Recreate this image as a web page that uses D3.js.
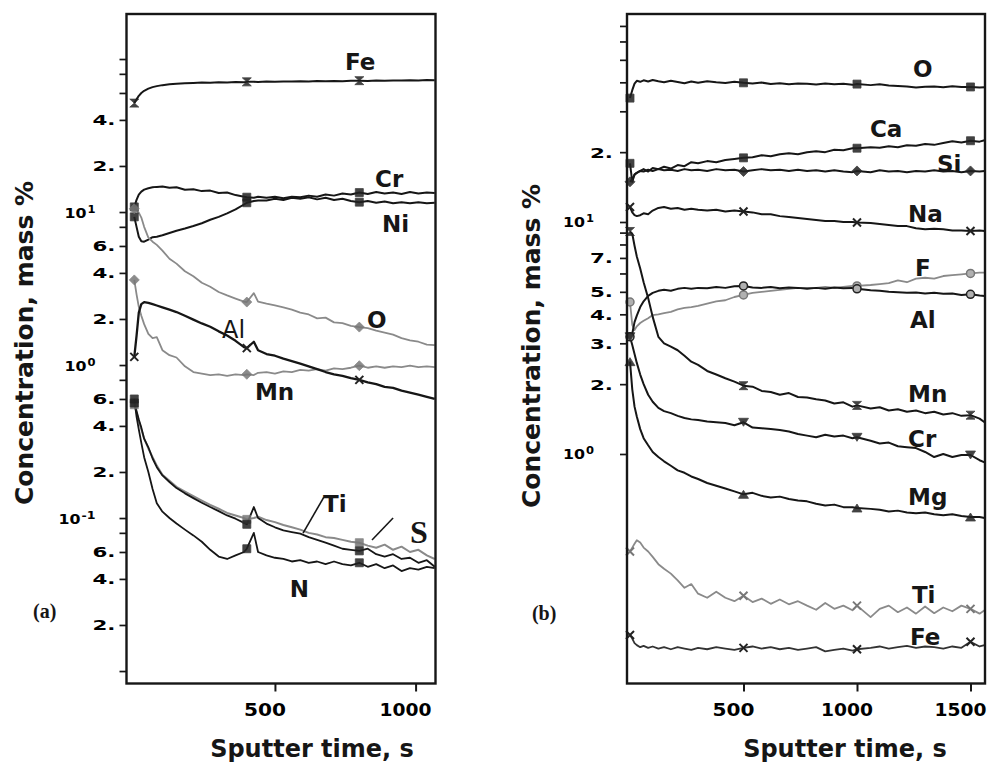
<!DOCTYPE html>
<html><head><meta charset="utf-8">
<script src="https://cdn.jsdelivr.net/npm/d3@7"></script>
<style>body{margin:0;background:#fff}svg{display:block}</style>
</head><body>
<svg id="chart" width="989" height="763"></svg>
<script>
// ---------- Panel (a) data : sputter time (s) and concentration (mass %) ----------
const timeA = [0, 8, 16, 25, 35, 50, 65, 80, 100, 125, 150, 180, 210, 240, 270, 300, 330, 360, 390, 400, 425, 440, 470, 500, 530, 560, 590, 620, 650, 680, 710, 740, 770, 800, 830, 860, 890, 920, 950, 980, 1010, 1040, 1068];
const feA = [51.5, 54.5, 57.5, 60, 62, 64, 65.5, 66.5, 67.5, 68.3, 68.9, 69.5, 69.8, 70.2, 70.0, 70.5, 70.3, 70.8, 70.6, 70.9, 71.0, 70.8, 71.2, 71.0, 71.4, 71.2, 71.6, 71.3, 71.8, 71.6, 71.9, 71.7, 72.0, 72.2, 71.9, 72.3, 72.1, 72.5, 72.3, 72.6, 72.4, 72.8, 72.7];
const crA = [10.8, 12.0, 13.0, 13.6, 14.0, 14.3, 14.5, 14.6, 14.7, 14.4, 14.5, 14.0, 14.1, 13.7, 13.8, 13.3, 13.4, 12.9, 12.6, 12.5, 12.4, 12.6, 12.4, 12.6, 12.3, 12.6, 12.5, 12.8, 12.6, 13.0, 12.8, 13.2, 13.0, 13.4, 13.1, 13.5, 13.2, 13.4, 13.1, 13.5, 13.2, 13.4, 13.3];
const niA = [9.3, 8.0, 6.9, 6.45, 6.4, 6.6, 6.85, 6.9, 7.05, 7.3, 7.55, 7.8, 8.1, 8.45, 8.9, 9.3, 9.8, 10.4, 11.2, 11.5, 11.8, 11.9, 11.9, 12.2, 12.0, 12.4, 12.2, 12.5, 12.1, 12.4, 12.0, 12.2, 11.8, 11.6, 11.8, 11.5, 11.7, 11.4, 11.6, 11.4, 11.6, 11.4, 11.5];
const oA = [10.5, 10.3, 9.9, 9.2, 8.0, 6.8, 6.4, 6.1, 5.6, 4.95, 4.6, 4.1, 3.8, 3.45, 3.25, 3.0, 2.85, 2.72, 2.6, 2.58, 2.95, 2.6, 2.52, 2.45, 2.38, 2.3, 2.2, 2.14, 2.02, 2.04, 1.9, 1.88, 1.8, 1.77, 1.74, 1.68, 1.63, 1.58, 1.5, 1.45, 1.42, 1.36, 1.35];
const alA = [1.13, 1.55, 2.2, 2.5, 2.58, 2.55, 2.5, 2.45, 2.38, 2.3, 2.22, 2.1, 1.98, 1.87, 1.78, 1.66, 1.56, 1.44, 1.31, 1.29, 1.42, 1.25, 1.18, 1.15, 1.1, 1.06, 1.02, 0.98, 0.94, 0.9, 0.87, 0.85, 0.82, 0.8, 0.77, 0.75, 0.72, 0.71, 0.68, 0.66, 0.64, 0.62, 0.6];
const mnA = [3.6, 2.9, 2.4, 2.1, 1.85, 1.6, 1.5, 1.52, 1.25, 1.16, 1.12, 0.98, 0.9, 0.88, 0.86, 0.87, 0.85, 0.87, 0.86, 0.87, 0.86, 0.89, 0.9, 0.88, 0.91, 0.9, 0.93, 0.92, 0.94, 0.92, 0.95, 0.94, 0.96, 0.99, 0.96, 0.98, 0.96, 0.98, 0.97, 0.99, 0.97, 0.98, 0.97];
const tiA = [0.565, 0.5, 0.44, 0.39, 0.33, 0.29, 0.245, 0.215, 0.19, 0.172, 0.157, 0.145, 0.135, 0.126, 0.118, 0.111, 0.104, 0.099, 0.093, 0.091, 0.118, 0.1, 0.092, 0.087, 0.083, 0.081, 0.079, 0.075, 0.072, 0.069, 0.066, 0.063, 0.062, 0.061, 0.063, 0.058, 0.056, 0.058, 0.054, 0.055, 0.051, 0.053, 0.048];
const sA = [0.55, 0.49, 0.43, 0.38, 0.33, 0.285, 0.25, 0.22, 0.192, 0.175, 0.16, 0.149, 0.139, 0.13, 0.122, 0.115, 0.108, 0.104, 0.1, 0.098, 0.1, 0.102, 0.097, 0.094, 0.09, 0.087, 0.084, 0.08, 0.078, 0.075, 0.074, 0.072, 0.07, 0.069, 0.066, 0.064, 0.067, 0.062, 0.065, 0.06, 0.062, 0.057, 0.054];
const nA = [0.6, 0.46, 0.38, 0.31, 0.25, 0.2, 0.155, 0.125, 0.11, 0.1, 0.092, 0.084, 0.077, 0.07, 0.062, 0.056, 0.054, 0.057, 0.06, 0.063, 0.08, 0.06, 0.057, 0.055, 0.054, 0.052, 0.053, 0.051, 0.052, 0.05, 0.052, 0.05, 0.049, 0.051, 0.048, 0.05, 0.047, 0.049, 0.045, 0.047, 0.046, 0.048, 0.047];

// ---------- Panel (b) data ----------
const timeB = [0, 10, 20, 30, 45, 60, 80, 100, 125, 150, 180, 210, 240, 270, 300, 340, 380, 420, 460, 500, 540, 580, 620, 660, 700, 740, 780, 820, 860, 900, 940, 980, 1000, 1060, 1100, 1140, 1180, 1220, 1260, 1300, 1340, 1380, 1420, 1460, 1500, 1540, 1562];
const oB = [34.2, 37, 39.5, 40.6, 40.2, 40.8, 40.3, 40.9, 40.4, 40.0, 40.6, 40.1, 39.6, 40.3, 39.8, 40.4, 40.0, 39.7, 40.2, 39.8, 39.5, 39.9, 39.3, 39.6, 39.2, 39.5, 39.4, 39.1, 39.5, 39.2, 39.4, 39.0, 39.3, 38.9, 39.2, 38.8, 38.6, 38.4, 38.0, 38.3, 38.4, 38.1, 38.5, 38.2, 38.2, 38.0, 38.1];
const caB = [17.9, 14.9, 16.0, 16.3, 16.6, 16.9, 16.5, 17.1, 16.9, 17.3, 17.0, 17.6, 17.4, 18.1, 17.9, 18.3, 18.1, 18.5, 18.7, 18.9, 19.0, 19.4, 19.2, 19.6, 19.8, 19.6, 20.0, 20.2, 20.0, 20.5, 20.4, 20.8, 20.8, 21.0, 20.9, 21.2, 21.0, 21.4, 21.3, 21.7, 21.5, 21.9, 22.3, 22.0, 22.4, 22.2, 22.5];
const siB = [14.9, 15.3, 16.0, 16.3, 16.6, 16.5, 16.8, 16.6, 16.9, 16.7, 16.8, 16.6, 16.9, 16.7, 16.8, 16.6, 16.9, 16.7, 16.8, 16.5, 16.7, 16.9, 16.7, 16.8, 16.6, 16.8, 16.6, 16.7, 16.5, 16.7, 16.5, 16.4, 16.6, 16.4, 16.7, 16.5, 16.6, 16.4, 16.6, 16.5, 16.7, 16.5, 16.6, 16.4, 16.6, 16.5, 16.6];
const naB = [11.6, 11.0, 10.7, 10.6, 10.7, 10.9, 10.8, 11.2, 11.5, 11.6, 11.4, 11.5, 11.3, 11.4, 11.3, 11.2, 11.3, 11.1, 11.2, 11.1, 11.0, 10.8, 10.8, 10.6, 10.5, 10.4, 10.3, 10.2, 10.1, 10.1, 10.0, 10.0, 9.95, 9.9, 9.8, 9.7, 9.6, 9.6, 9.4, 9.3, 9.35, 9.3, 9.2, 9.2, 9.15, 9.2, 9.15];
const fB = [4.52, 3.6, 3.42, 3.55, 3.67, 3.75, 3.85, 3.97, 4.0, 4.05, 4.1, 4.2, 4.26, 4.3, 4.35, 4.45, 4.55, 4.6, 4.75, 4.85, 4.95, 5.0, 5.05, 5.1, 5.15, 5.2, 5.2, 5.2, 5.25, 5.2, 5.25, 5.3, 5.3, 5.35, 5.4, 5.45, 5.6, 5.5, 5.7, 5.75, 5.7, 5.85, 5.9, 5.95, 6.0, 6.05, 6.05];
const alB = [3.2, 3.3, 3.7, 3.95, 4.3, 4.55, 4.8, 4.95, 5.05, 5.1, 5.05, 5.15, 5.2, 5.15, 5.2, 5.18, 5.25, 5.2, 5.28, 5.3, 5.22, 5.2, 5.25, 5.18, 5.22, 5.2, 5.15, 5.2, 5.15, 5.22, 5.18, 5.2, 5.15, 5.08, 5.05, 5.0, 4.98, 4.95, 4.97, 4.92, 4.95, 4.9, 4.92, 4.85, 4.88, 4.82, 4.8];
const mnB = [9.1, 8.9, 7.9, 7.1, 6.3, 5.5, 4.7, 3.9, 3.2, 3.0, 2.9, 2.8, 2.65, 2.5, 2.42, 2.28, 2.2, 2.12, 2.05, 1.97, 1.95, 1.87, 1.85, 1.8, 1.83, 1.76, 1.75, 1.72, 1.7, 1.65, 1.67, 1.6, 1.62, 1.57, 1.59, 1.54, 1.56, 1.52, 1.54, 1.5, 1.52, 1.48, 1.5, 1.46, 1.47, 1.42, 1.37];
const crB = [3.2, 2.95, 2.7, 2.47, 2.2, 2.0, 1.8, 1.68, 1.58, 1.53, 1.5, 1.46, 1.43, 1.41, 1.4, 1.38, 1.37, 1.36, 1.33, 1.37, 1.3, 1.29, 1.28, 1.27, 1.25, 1.22, 1.2, 1.18, 1.21, 1.19, 1.2, 1.17, 1.18, 1.14, 1.11, 1.12, 1.08, 1.07, 1.06, 1.02, 0.97, 1.0, 0.97, 0.99, 0.99, 0.94, 0.92];
const mgB = [2.5, 1.9, 1.6, 1.45, 1.28, 1.17, 1.09, 1.02, 0.97, 0.93, 0.89, 0.85, 0.83, 0.8, 0.78, 0.75, 0.73, 0.71, 0.69, 0.67, 0.68, 0.66, 0.65, 0.655, 0.64, 0.63, 0.625, 0.61, 0.6, 0.605, 0.59, 0.59, 0.585, 0.58, 0.575, 0.565, 0.57, 0.56, 0.555, 0.56, 0.55, 0.545, 0.55, 0.54, 0.535, 0.535, 0.53];
const tiB = [0.38, 0.395, 0.41, 0.425, 0.415, 0.395, 0.38, 0.36, 0.335, 0.32, 0.305, 0.285, 0.265, 0.275, 0.25, 0.24, 0.255, 0.24, 0.232, 0.245, 0.23, 0.238, 0.226, 0.236, 0.225, 0.232, 0.222, 0.213, 0.228, 0.215, 0.222, 0.212, 0.222, 0.198, 0.215, 0.222, 0.208, 0.218, 0.205, 0.22, 0.206, 0.218, 0.21, 0.222, 0.215, 0.205, 0.212];
const feB = [0.166, 0.16, 0.153, 0.15, 0.147, 0.149, 0.146, 0.148, 0.145, 0.147, 0.144, 0.147, 0.145, 0.143, 0.146, 0.144, 0.147, 0.145, 0.143, 0.146, 0.148, 0.145, 0.147, 0.144, 0.146, 0.143, 0.145, 0.147, 0.141, 0.143, 0.145, 0.142, 0.144, 0.146, 0.148, 0.145, 0.147, 0.149, 0.146, 0.148, 0.147, 0.145, 0.148, 0.146, 0.155, 0.148, 0.15];

// ---------- ticks ----------
const yTicksA = [100, 80, 60, 40, 20, 10, 8, 6, 4, 2, 1, 0.8, 0.6, 0.4, 0.2, 0.1, 0.08, 0.06, 0.04, 0.02, 0.01];
const yTickLabelsA = ["", "", "", "4.", "2.", "10^1", "", "6.", "4.", "2.", "10^0", "", "6.", "4.", "2.", "10^-1", "", "6.", "4.", "2.", ""];
const xTicksA = [500, 1000];
const yTicksB = [70, 60, 50, 40, 30, 20, 10, 9, 8, 7, 6, 5, 4, 3, 2, 1];
const yTickLabelsB = ["", "", "", "", "", "2.", "10^1", "", "", "7.", "", "5.", "4.", "3.", "2.", "10^0"];
const xTicksB = [500, 1000, 1500];
const markTimesA = [0, 400, 800];
const markTimesB = [0, 500, 1000, 1500];

const BLACK = "#161616", GRAY = "#8a8a8a";
const FONT = "'DejaVu Sans', Verdana, sans-serif";
const svg = d3.select("#chart");

function marker(g, cx, cy, type, color) {
  const paths = {
    x: "M-4,-4L4,4M-4,4L4,-4",
    hour: "M-4.5,-4L4.5,-4L-4.5,4L4.5,4Z",
    sq: "M-4,-4H4V4H-4Z",
    dia: "M0,-5L5,0L0,5L-5,0Z",
    tri: "M-5,-4L5,-4L0,4Z",
    triu: "M-5,4L5,4L0,-4Z",
    circ: "M-4,0A4,4 0 1,0 4,0A4,4 0 1,0 -4,0Z"
  };
  const p = g.append("path").attr("d", paths[type]).attr("transform", `translate(${cx},${cy})`);
  if (type === "x") p.attr("fill", "none").attr("stroke", color).attr("stroke-width", 2);
  else if (type === "circ") p.attr("fill", "#b0b0b0").attr("stroke", color).attr("stroke-width", 1.5);
  else p.attr("fill", color).attr("stroke", color).attr("stroke-width", 0.8).attr("opacity", 0.85);
}

function drawPanel(p) {
  const x = d3.scaleLinear().domain(p.xDomain).range([p.left, p.right]);
  const y = d3.scaleLog().domain(p.yDomain).range([p.bottom, p.top]);
  const g = svg.append("g");

  // series lines
  p.series.forEach(s => {
    const pts = d3.zip(p.times, s.values);
    g.append("path").datum(pts)
      .attr("fill", "none").attr("stroke", s.color).attr("stroke-width", s.width)
      .attr("stroke-linejoin", "round")
      .attr("d", d3.line().x(d => x(d[0])).y(d => y(d[1])));
  });
  p.series.forEach(s => {
    p.marks.forEach(mt => {
      const i = p.times.indexOf(mt);
      if (i >= 0) marker(g, x(p.times[i]), y(s.values[i]), s.marker, s.color === GRAY ? "#777" : "#222");
    });
  });

  // y axis ticks
  const ay = g.append("g").attr("transform", `translate(${p.left},0)`)
    .call(d3.axisLeft(y).tickValues(p.yTicks).tickSize(7).tickFormat(""));
  ay.select(".domain").remove();
  ay.selectAll(".tick line").attr("stroke", BLACK).attr("stroke-width", 1.7);
  p.yTicks.forEach((v, i) => {
    const lab = p.yLabels[i];
    if (!lab) return;
    const yy = y(v);
    if (lab.startsWith("10^")) {
      const exp = lab.slice(3);
      const expW = exp.length > 1 ? 15 : 9;
      const endX = p.left - p.decOff - expW;
      g.append("text").attr("x", endX).attr("y", yy + 5.5)
        .attr("text-anchor", "end").attr("font-family", FONT).attr("font-weight", "bold")
        .attr("font-size", 14.5).attr("textLength", 22).attr("lengthAdjust", "spacingAndGlyphs").text("10");
      g.append("text").attr("x", endX + 1).attr("y", yy + 0.5)
        .attr("font-family", FONT).attr("font-weight", "bold").attr("font-size", 10.5)
        .attr("textLength", expW - 1).attr("lengthAdjust", "spacingAndGlyphs").text(exp);
    } else {
      g.append("text").attr("x", p.left - p.labOff).attr("y", yy + 5.5)
        .attr("text-anchor", "end").attr("font-family", FONT).attr("font-weight", "bold")
        .attr("font-size", 14.5).attr("textLength", 23).attr("lengthAdjust", "spacingAndGlyphs").text(lab);
    }
  });

  // x axis ticks (labels sit slightly left of their ticks, as in the original)
  const ax = g.append("g").attr("transform", `translate(0,${p.bottom})`)
    .call(d3.axisBottom(x).tickValues(p.xTicks).tickSize(8).tickFormat(""));
  ax.select(".domain").remove();
  ax.selectAll(".tick line").attr("stroke", BLACK).attr("stroke-width", 2);
  p.xTicks.forEach(v => {
    const s = String(v);
    g.append("text").attr("x", x(v) - 10).attr("y", p.bottom + 32)
      .attr("text-anchor", "middle").attr("font-family", FONT).attr("font-weight", "bold")
      .attr("font-size", 18).attr("textLength", s.length === 3 ? 42 : 52).attr("lengthAdjust", "spacingAndGlyphs").text(s);
  });

  // frame
  g.append("rect").attr("x", p.left).attr("y", p.top)
    .attr("width", p.right - p.left).attr("height", p.bottom - p.top)
    .attr("fill", "none").attr("stroke", BLACK).attr("stroke-width", 2.4);

  // axis titles
  g.append("text").attr("x", p.xTitleX).attr("y", 757).attr("text-anchor", "middle")
    .attr("font-family", FONT).attr("font-weight", "bold").attr("font-size", 24).attr("fill", BLACK)
    .text("Sputter time, s");
  g.append("text").attr("transform", `translate(${p.yTitleX},${p.yTitleY}) rotate(-90)`)
    .attr("text-anchor", "middle").attr("font-family", FONT).attr("font-weight", "bold")
    .attr("font-size", 25).attr("fill", BLACK).text("Concentration, mass %");

  // series labels (positioned in data coordinates)
  p.labels.forEach(l => {
    g.append("text").attr("x", x(l.t)).attr("y", y(l.v))
      .attr("font-family", l.serif ? "'Liberation Serif', 'Times New Roman', serif" : FONT)
      .attr("font-weight", l.normal ? "normal" : "bold")
      .attr("font-size", l.size || 23).attr("fill", BLACK).text(l.text);
  });
  (p.leaders || []).forEach(d => {
    g.append("line").attr("x1", x(d[0])).attr("y1", y(d[1])).attr("x2", x(d[2])).attr("y2", y(d[3]))
      .attr("stroke", BLACK).attr("stroke-width", 1.6);
  });
}

drawPanel({
  left: 126.5, right: 435.5, top: 14, bottom: 683.5,
  xDomain: [-27.7, 1070.8], yDomain: [0.00829, 196.9],
  times: timeA, marks: markTimesA,
  yTicks: yTicksA, yLabels: yTickLabelsA, xTicks: xTicksA,
  labOff: 11, decOff: 31,
  xTitleX: 312, yTitleX: 33, yTitleY: 343,
  series: [
    { values: feA, color: BLACK, width: 2, marker: "hour" },
    { values: crA, color: BLACK, width: 2, marker: "sq" },
    { values: niA, color: BLACK, width: 2, marker: "sq" },
    { values: oA, color: GRAY, width: 1.8, marker: "dia" },
    { values: mnA, color: GRAY, width: 1.8, marker: "dia" },
    { values: alA, color: BLACK, width: 2.3, marker: "x" },
    { values: sA, color: GRAY, width: 2, marker: "sq" },
    { values: tiA, color: BLACK, width: 1.8, marker: "sq" },
    { values: nA, color: BLACK, width: 1.8, marker: "sq" }
  ],
  labels: [
    { text: "Fe", t: 749, v: 84.7 },
    { text: "Cr", t: 856, v: 14.6 },
    { text: "Ni", t: 881, v: 7.40 },
    { text: "O", t: 827, v: 1.75 },
    { text: "Al", t: 312, v: 1.50, normal: true, size: 24 },
    { text: "Mn", t: 429, v: 0.590 },
    { text: "Ti", t: 671, v: 0.1094 },
    { text: "S", t: 980, v: 0.0687, serif: true, size: 32 },
    { text: "N", t: 553, v: 0.0305 },
    { text: "(a)", t: -360, v: 0.0222, serif: true, size: 20 }
  ],
  leaders: [[674, 0.137, 600, 0.0798], [920, 0.1, 845, 0.0718]]
});

drawPanel({
  left: 627, right: 985, top: 14, bottom: 683.5,
  xDomain: [-13.2, 1563.9], yDomain: [0.1025, 78.8],
  times: timeB, marks: markTimesB,
  yTicks: yTicksB, yLabels: yTickLabelsB, xTicks: xTicksB,
  labOff: 14, decOff: 33,
  xTitleX: 845, yTitleX: 540, yTitleY: 346,
  series: [
    { values: oB, color: BLACK, width: 2, marker: "sq" },
    { values: caB, color: BLACK, width: 2, marker: "sq" },
    { values: siB, color: BLACK, width: 2, marker: "dia" },
    { values: naB, color: BLACK, width: 2, marker: "x" },
    { values: fB, color: GRAY, width: 1.8, marker: "circ" },
    { values: alB, color: BLACK, width: 2, marker: "circ" },
    { values: mnB, color: BLACK, width: 2, marker: "hour" },
    { values: crB, color: BLACK, width: 2, marker: "tri" },
    { values: mgB, color: BLACK, width: 2, marker: "triu" },
    { values: tiB, color: GRAY, width: 1.8, marker: "x" },
    { values: feB, color: "#333", width: 1.8, marker: "x" }
  ],
  labels: [
    { text: "O", t: 1247, v: 42.2 },
    { text: "Ca", t: 1057, v: 23.2 },
    { text: "Si", t: 1352, v: 16.4 },
    { text: "Na", t: 1225, v: 10 },
    { text: "F", t: 1256, v: 5.85 },
    { text: "Al", t: 1233, v: 3.49 },
    { text: "Mn", t: 1225, v: 1.67 },
    { text: "Cr", t: 1225, v: 1.07 },
    { text: "Mg", t: 1225, v: 0.603 },
    { text: "Ti", t: 1242, v: 0.228 },
    { text: "Fe", t: 1233, v: 0.150 },
    { text: "(b)", t: -432, v: 0.192, serif: true, size: 20 }
  ]
});
</script>
</body></html>
